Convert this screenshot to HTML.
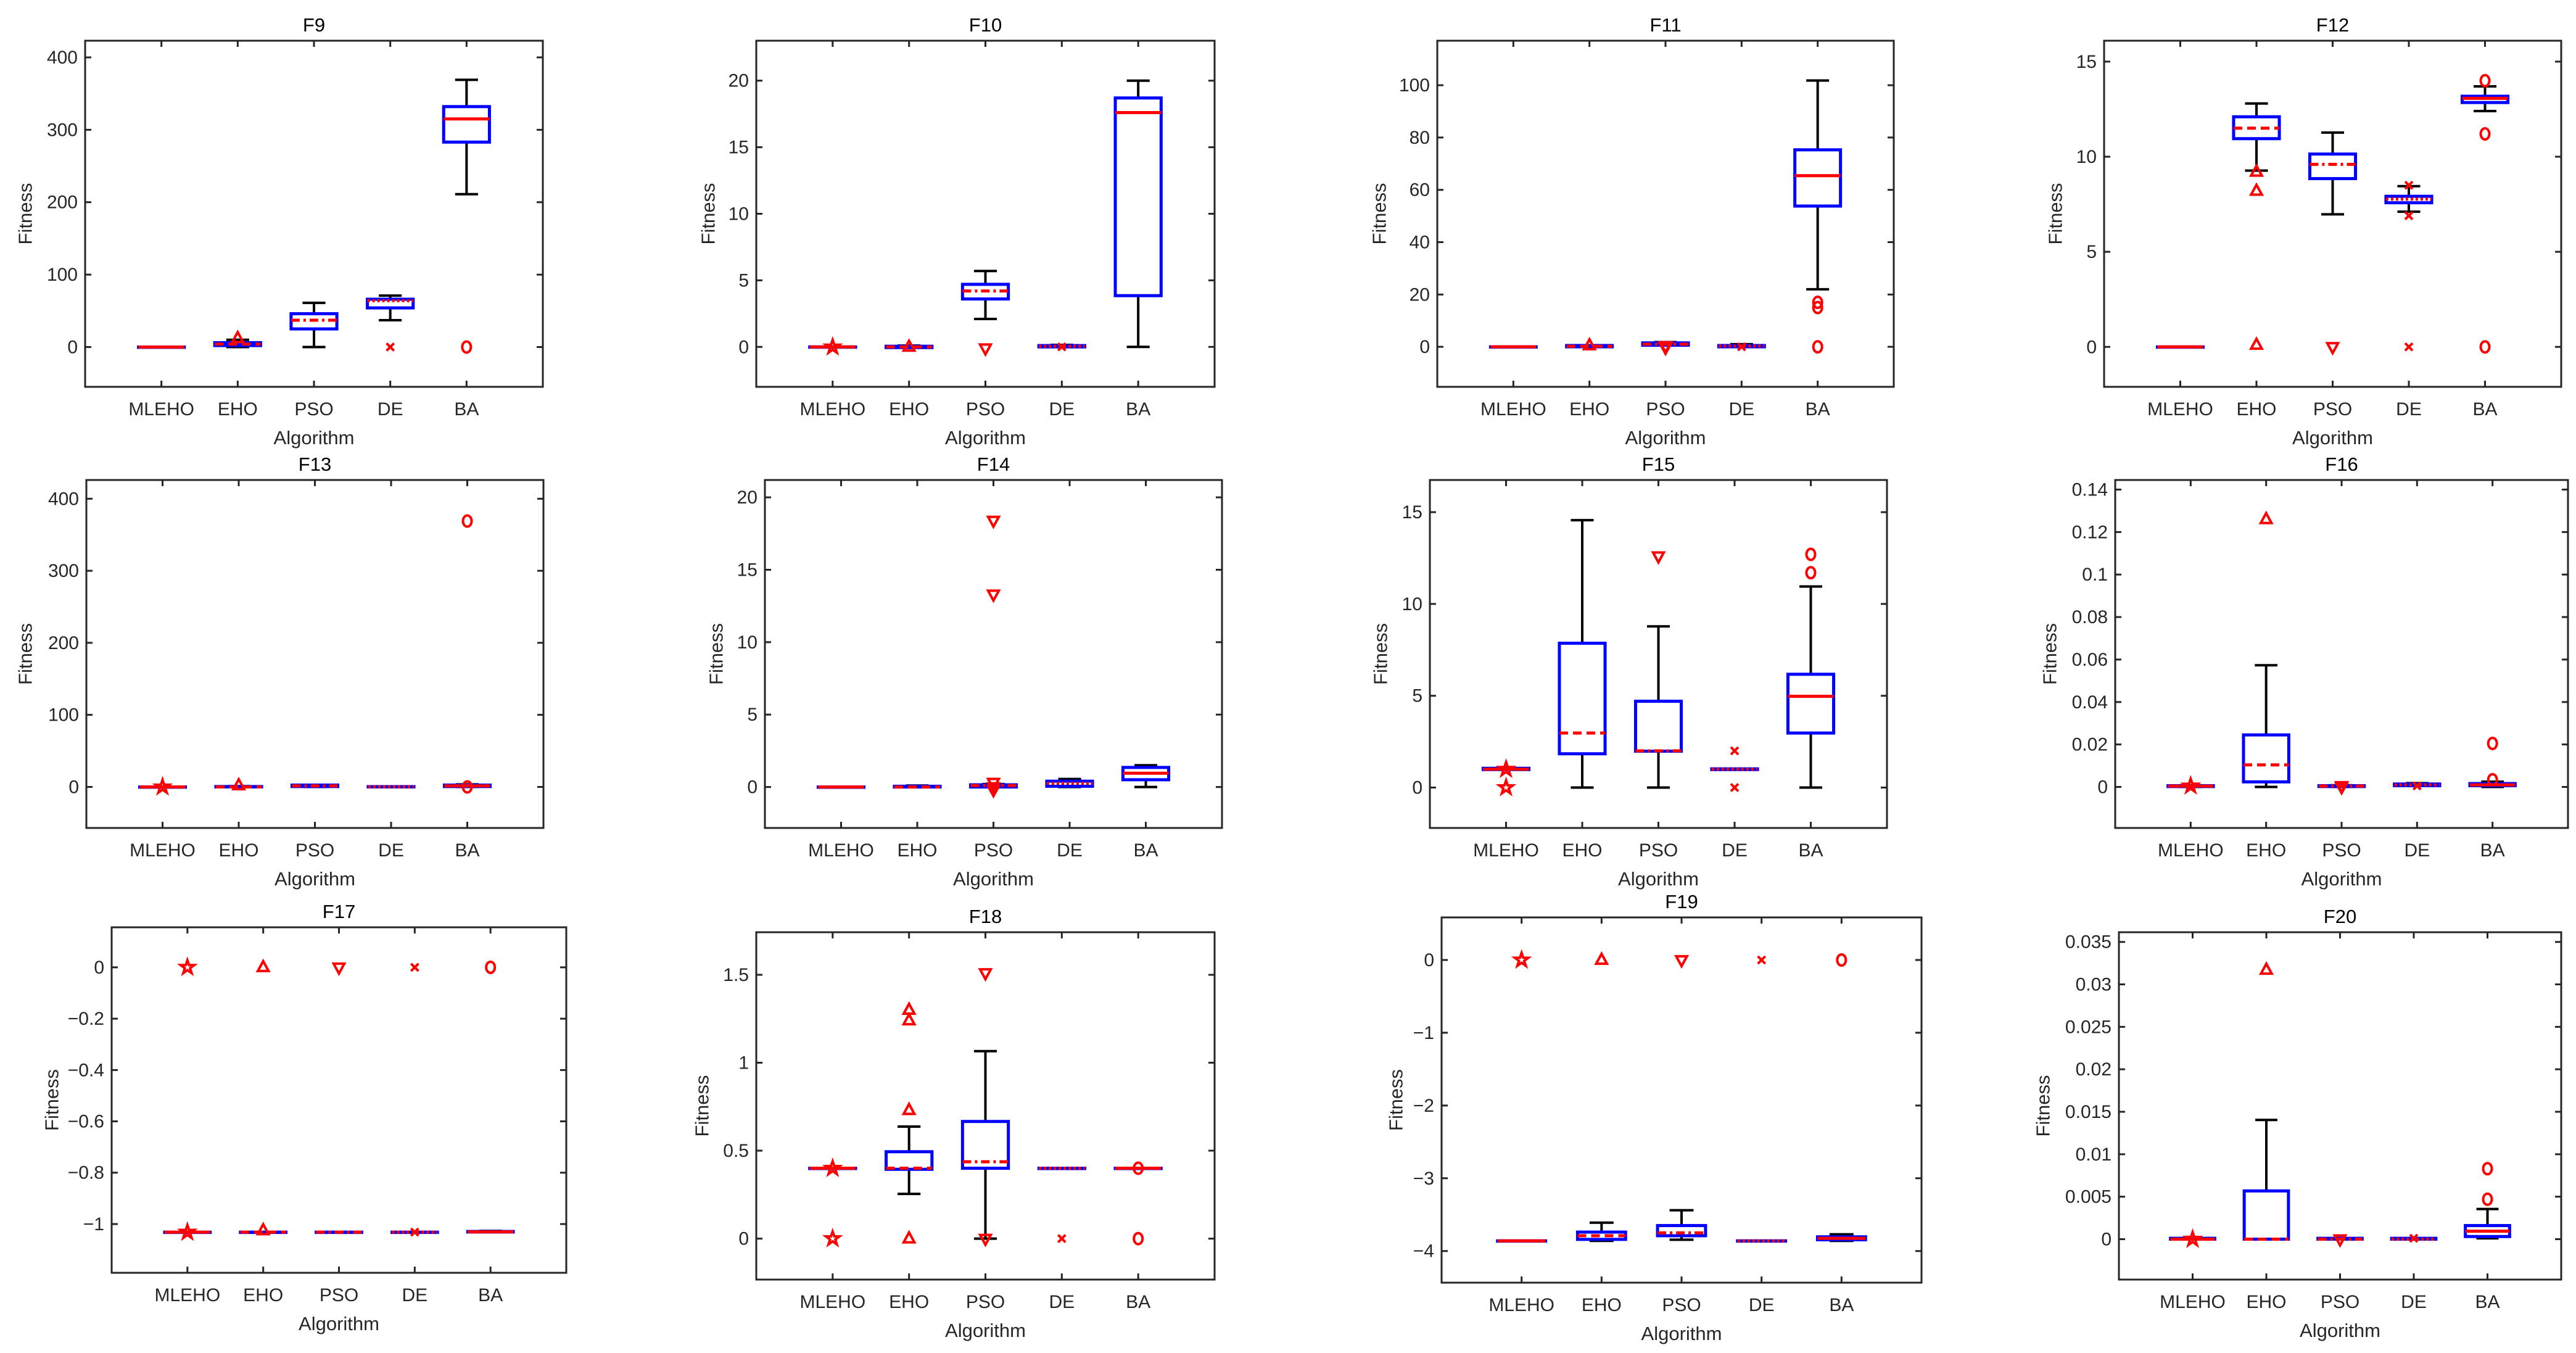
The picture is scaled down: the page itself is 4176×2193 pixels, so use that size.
<!DOCTYPE html>
<html>
<head>
<meta charset="utf-8">
<style>
html,body{margin:0;padding:0;background:#fff;}
svg{display:block;font-family:"Liberation Sans",Arial,sans-serif;}
</style>
</head>
<body>
<svg id="fig" xmlns="http://www.w3.org/2000/svg" width="4176" height="2193" viewBox="0 0 4176 2193"></svg>
<script>
const categories = ["MLEHO","EHO","PSO","DE","BA"];

// ---- F9 ----
const f9Ticks = [0,100,200,300,400];
const f9Low = [0,0,0,37,211];
const f9Q1 = [0,2,25,54,283];
const f9Med = [0,4,37,64,315];
const f9Q3 = [0,6,46,66,332];
const f9High = [0,10,61,71,369];
const f9Out = [[],[12],[],[0],[0]];
// ---- F10 ----
const f10Ticks = [0,5,10,15,20];
const f10Low = [0,0,2.1,0,0];
const f10Q1 = [0,-0.05,3.6,0,3.85];
const f10Med = [0,0,4.2,0.05,17.6];
const f10Q3 = [0,0.05,4.7,0.1,18.7];
const f10High = [0,0.1,5.7,0.15,20];
const f10Out = [[0],[0],[-0.1],[0],[]];
// ---- F11 ----
const f11Ticks = [0,20,40,60,80,100];
const f11Low = [0,0,0.5,0,22];
const f11Q1 = [0,0,0.6,0,53.8];
const f11Med = [0,0.2,1,0.3,65.4];
const f11Q3 = [0,0.5,1.5,0.5,75.3];
const f11High = [0,0.6,1.8,1,101.8];
const f11Out = [[],[0.5],[0.3,0,-0.3],[0],[17,15,0]];
// ---- F12 ----
const f12Ticks = [0,5,10,15];
const f12Low = [0,9.27,6.97,7.11,12.4];
const f12Q1 = [0,10.95,8.85,7.58,12.85];
const f12Med = [0,11.5,9.6,7.77,13.07];
const f12Q3 = [0,12.1,10.14,7.92,13.18];
const f12High = [0,12.8,11.27,8.45,13.7];
const f12Out = [[],[9.2,8.2,0.1],[0],[8.5,6.9,0],[14,11.2,0]];
// ---- F13 ----
const f13Ticks = [0,100,200,300,400];
const f13Low = [0,0,0,0,0];
const f13Q1 = [0,0,0.5,0,0.5];
const f13Med = [0,0,1.5,0.2,1.5];
const f13Q3 = [0,0.5,2.5,0.4,2.5];
const f13High = [0,1,3,0.5,3.5];
const f13Out = [[0],[2],[],[],[369,0]];
// ---- F14 ----
const f14Ticks = [0,5,10,15,20];
const f14Low = [0,0,0,0,0];
const f14Q1 = [0,0,0,0.05,0.5];
const f14Med = [0,0,0.1,0.25,0.95];
const f14Q3 = [0,0.05,0.15,0.4,1.35];
const f14High = [0,0.1,0.2,0.55,1.5];
const f14Out = [[],[],[18.4,13.3,0.3,0,-0.2],[],[]];
// ---- F15 ----
const f15Ticks = [0,5,10,15];
const f15Low = [1,0,0,1,0];
const f15Q1 = [0.98,1.84,1.98,0.98,2.97];
const f15Med = [1,2.97,2,1,4.97];
const f15Q3 = [1.05,7.86,4.7,1.02,6.17];
const f15High = [1.05,14.56,8.78,1.02,10.95];
const f15Out = [[1.0,0],[],[12.6],[2,0],[12.7,11.7]];
// ---- F16 ----
const f16Ticks = [0,0.02,0.04,0.06,0.08,0.1,0.12,0.14];
const f16Low = [0,0,0,0.0005,0];
const f16Q1 = [0.0002,0.0024,0.0002,0.0006,0.0006];
const f16Med = [0.0004,0.0104,0.0004,0.001,0.001];
const f16Q3 = [0.0006,0.0245,0.0006,0.0014,0.0016];
const f16High = [0.0008,0.0573,0.0008,0.0018,0.0025];
const f16Out = [[0.0005],[0.126],[0.0005,0],[0.0005],[0.0205,0.0034]];
// ---- F17 ----
const f17Ticks = [-1,-0.8,-0.6,-0.4,-0.2,0];
const f17Low = [-1.0316,-1.0316,-1.0316,-1.0316,-1.0316];
const f17Q1 = [-1.0316,-1.0316,-1.0316,-1.0316,-1.031];
const f17Med = [-1.0316,-1.0316,-1.0316,-1.0316,-1.0305];
const f17Q3 = [-1.0316,-1.0316,-1.0316,-1.0316,-1.029];
const f17High = [-1.0316,-1.0316,-1.0316,-1.0316,-1.027];
const f17Out = [[0,-1.0316],[0,-1.025],[0],[0,-1.0316],[0]];
// ---- F18 ----
const f18Ticks = [0,0.5,1,1.5];
const f18Low = [0.4,0.254,0,0.4,0.4];
const f18Q1 = [0.4,0.394,0.4,0.4,0.4];
const f18Med = [0.4,0.4,0.437,0.4,0.4];
const f18Q3 = [0.4,0.494,0.666,0.4,0.4];
const f18High = [0.4,0.637,1.066,0.4,0.4];
const f18Out = [[0.4,0],[1.30,1.24,0.73,0],[1.51,0],[0],[0.4,0]];
// ---- F19 ----
const f19Ticks = [-4,-3,-2,-1,0];
const f19Low = [-3.86,-3.86,-3.845,-3.86,-3.86];
const f19Q1 = [-3.86,-3.84,-3.79,-3.86,-3.845];
const f19Med = [-3.86,-3.79,-3.75,-3.86,-3.825];
const f19Q3 = [-3.86,-3.74,-3.65,-3.86,-3.805];
const f19High = [-3.86,-3.61,-3.44,-3.86,-3.77];
const f19Out = [[0],[0],[0],[0],[0]];
// ---- F20 ----
const f20Ticks = [0,0.005,0.01,0.015,0.02,0.025,0.03,0.035];
const f20Low = [0,0,0,0,0.0001];
const f20Q1 = [0,0,0,0,0.00031];
const f20Med = [0,0,0,0,0.00094];
const f20Q3 = [0.0001,0.00568,0.0001,0.0001,0.0016];
const f20High = [0.0001,0.01404,0.0001,0.0001,0.00355];
const f20Out = [[0],[0.0317],[0],[0.0001],[0.0083,0.0047]];

// layout (pixel geometry, not data)
const panels = [
 {t:"F9", L:138,R:880,T:66,B:627, ymin:-55,ymax:423, yl:97, ticks:f9Ticks, lo:f9Low,q1:f9Q1,md:f9Med,q3:f9Q3,hi:f9High,out:f9Out},
 {t:"F10",L:1226,R:1969,T:66,B:627, ymin:-3,ymax:23, yl:78, ticks:f10Ticks, lo:f10Low,q1:f10Q1,md:f10Med,q3:f10Q3,hi:f10High,out:f10Out},
 {t:"F11",L:2330,R:3070,T:66,B:627, ymin:-15.3,ymax:117, yl:94, ticks:f11Ticks, lo:f11Low,q1:f11Q1,md:f11Med,q3:f11Q3,hi:f11High,out:f11Out},
 {t:"F12",L:3411,R:4152,T:66,B:627, ymin:-2.1,ymax:16.1, yl:79, ticks:f12Ticks, lo:f12Low,q1:f12Q1,md:f12Med,q3:f12Q3,hi:f12High,out:f12Out},
 {t:"F13",L:140,R:881,T:778,B:1342, ymin:-57,ymax:426, yl:99, ticks:f13Ticks, lo:f13Low,q1:f13Q1,md:f13Med,q3:f13Q3,hi:f13High,out:f13Out},
 {t:"F14",L:1240,R:1981,T:778,B:1342, ymin:-2.83,ymax:21.2, yl:79, ticks:f14Ticks, lo:f14Low,q1:f14Q1,md:f14Med,q3:f14Q3,hi:f14High,out:f14Out},
 {t:"F15",L:2318,R:3059,T:778,B:1342, ymin:-2.2,ymax:16.75, yl:80, ticks:f15Ticks, lo:f15Low,q1:f15Q1,md:f15Med,q3:f15Q3,hi:f15High,out:f15Out},
 {t:"F16",L:3429,R:4163,T:778,B:1342, ymin:-0.0193,ymax:0.1445, yl:106, ticks:f16Ticks, lo:f16Low,q1:f16Q1,md:f16Med,q3:f16Q3,hi:f16High,out:f16Out},
 {t:"F17",L:181,R:918,T:1503,B:2063, ymin:-1.19,ymax:0.156, yl:97, ticks:f17Ticks, lo:f17Low,q1:f17Q1,md:f17Med,q3:f17Q3,hi:f17High,out:f17Out},
 {t:"F18",L:1226,R:1969,T:1511,B:2074, ymin:-0.233,ymax:1.742, yl:88, ticks:f18Ticks, lo:f18Low,q1:f18Q1,md:f18Med,q3:f18Q3,hi:f18High,out:f18Out},
 {t:"F19",L:2337,R:3115,T:1487,B:2079, ymin:-4.435,ymax:0.585, yl:74, ticks:f19Ticks, lo:f19Low,q1:f19Q1,md:f19Med,q3:f19Q3,hi:f19High,out:f19Out},
 {t:"F20",L:3435,R:4152,T:1511,B:2074, ymin:-0.00476,ymax:0.03614, yl:123, ticks:f20Ticks, lo:f20Low,q1:f20Q1,md:f20Med,q3:f20Q3,hi:f20High,out:f20Out}
];

const NS = "http://www.w3.org/2000/svg";
const svg = document.getElementById("fig");
const AX = "#262626";
const medDash = ["", "14 8", "14 6 4 6", "4 4", ""];
const catKey = ["mleho","eho","pso","de","ba"];

function mk(parent, tag, attrs){
  const e = document.createElementNS(NS, tag);
  for (const k in attrs) e.setAttribute(k, attrs[k]);
  parent.appendChild(e);
  return e;
}
function fmt(v){
  let s = String(Math.round(v*100000)/100000);
  return s.replace("-", "\u2212");
}
function markerPath(kind, cx, cy, r){
  if (kind===0){ // pentagram
    let d="";
    for(let i=0;i<10;i++){
      const ang=-Math.PI/2+i*Math.PI/5;
      const rr = i%2===0 ? r*1.15 : r*0.45;
      d += (i===0?"M":"L")+(cx+rr*Math.cos(ang)).toFixed(1)+","+(cy+rr*Math.sin(ang)).toFixed(1);
    }
    return d+"Z";
  }
  if (kind===1) return `M${cx},${cy-r}L${cx+r*0.87},${cy+r*0.6}L${cx-r*0.87},${cy+r*0.6}Z`;
  if (kind===2) return `M${cx},${cy+r}L${cx+r*0.87},${cy-r*0.6}L${cx-r*0.87},${cy-r*0.6}Z`;
  if (kind===3){ const a=r*0.6; return `M${cx-a},${cy-a}L${cx+a},${cy+a}M${cx+a},${cy-a}L${cx-a},${cy+a}`; }
  return null;
}

panels.forEach(p=>{
  const key = p.t.toLowerCase();
  const g = mk(svg,"g",{});
  
  
  const W = p.R-p.L;
  const xs = i => p.L + (i+1)*W/6;
  const ys = v => p.B - (v-p.ymin)/(p.ymax-p.ymin)*(p.B-p.T);

  const bg = mk(g,"rect",{x:p.L,y:p.T,width:W,height:p.B-p.T,fill:"#fff"});
  
  

  // title
  const tt = mk(g,"text",{x:(p.L+p.R)/2,y:p.T-15,"text-anchor":"middle","font-size":31,fill:"#000"});
  tt.textContent = p.t;
  
  

  // y ticks
  p.ticks.forEach(v=>{
    const y = ys(v);
    const tl = mk(g,"path",{d:`M${p.L},${y}H${p.L+10}M${p.R},${y}H${p.R-10}`,stroke:AX,"stroke-width":3});
    
    
    const lb = mk(g,"text",{x:p.L-12,y:y+10,"text-anchor":"end","font-size":30,fill:AX});
    lb.textContent = fmt(v);
    
    
  });
  // x ticks
  categories.forEach((c,i)=>{
    const x = xs(i);
    const tl = mk(g,"path",{d:`M${x},${p.B}V${p.B-10}M${x},${p.T}V${p.T+10}`,stroke:AX,"stroke-width":3});
    
    
    const lb = mk(g,"text",{x:x,y:p.B+46,"text-anchor":"middle","font-size":30,fill:AX});
    lb.textContent = c;
    
    
  });
  const xl = mk(g,"text",{x:(p.L+p.R)/2,y:p.B+93,"text-anchor":"middle","font-size":31,fill:AX});
  xl.textContent = "Algorithm";
  
  
  const yx = p.L-p.yl, yy=(p.T+p.B)/2;
  const yl = mk(g,"text",{x:yx,y:yy,"text-anchor":"middle","dominant-baseline":"central","font-size":31,fill:AX,transform:`rotate(-90 ${yx} ${yy})`});
  yl.textContent = "Fitness";
  
  

  // boxes
  const bw = W/6*0.6, cw = W/6*0.3;
  categories.forEach((c,i)=>{
    const x = xs(i);
    const bg2 = mk(g,"g",{});
    
    
    const wl = mk(bg2,"path",{d:`M${x},${ys(p.q3[i])}V${ys(p.hi[i])}M${x-cw/2},${ys(p.hi[i])}H${x+cw/2}M${x},${ys(p.q1[i])}V${ys(p.lo[i])}M${x-cw/2},${ys(p.lo[i])}H${x+cw/2}`,stroke:"#000","stroke-width":4,fill:"none"});
    
    
    const top = ys(p.q3[i]), bot = ys(p.q1[i]);
    const bx = mk(bg2,"rect",{x:x-bw/2,y:top,width:bw,height:Math.max(0.5,bot-top),fill:"none",stroke:"#0000ff","stroke-width":5});
    
    
    const mattrs = {d:`M${x-bw/2},${ys(p.md[i])}H${x+bw/2}`,stroke:"#ff0000","stroke-width":5};
    if (medDash[i]) mattrs["stroke-dasharray"]=medDash[i];
    const ml = mk(bg2,"path",mattrs);
    
    
    p.out[i].forEach(v=>{
      const cy = ys(v);
      let m;
      if (i===4) m = mk(bg2,"ellipse",{cx:x,cy:cy,rx:7,ry:9,fill:"none",stroke:"#ff0000","stroke-width":4});
      else m = mk(bg2,"path",{d:markerPath(i,x,cy,10),fill:"none",stroke:"#ff0000","stroke-width":4,"stroke-linejoin":"miter"});
      
      
    });
  });

  const fr = mk(g,"rect",{x:p.L,y:p.T,width:W,height:p.B-p.T,fill:"none",stroke:AX,"stroke-width":3});
  
  
});
</script>
</body>
</html>
